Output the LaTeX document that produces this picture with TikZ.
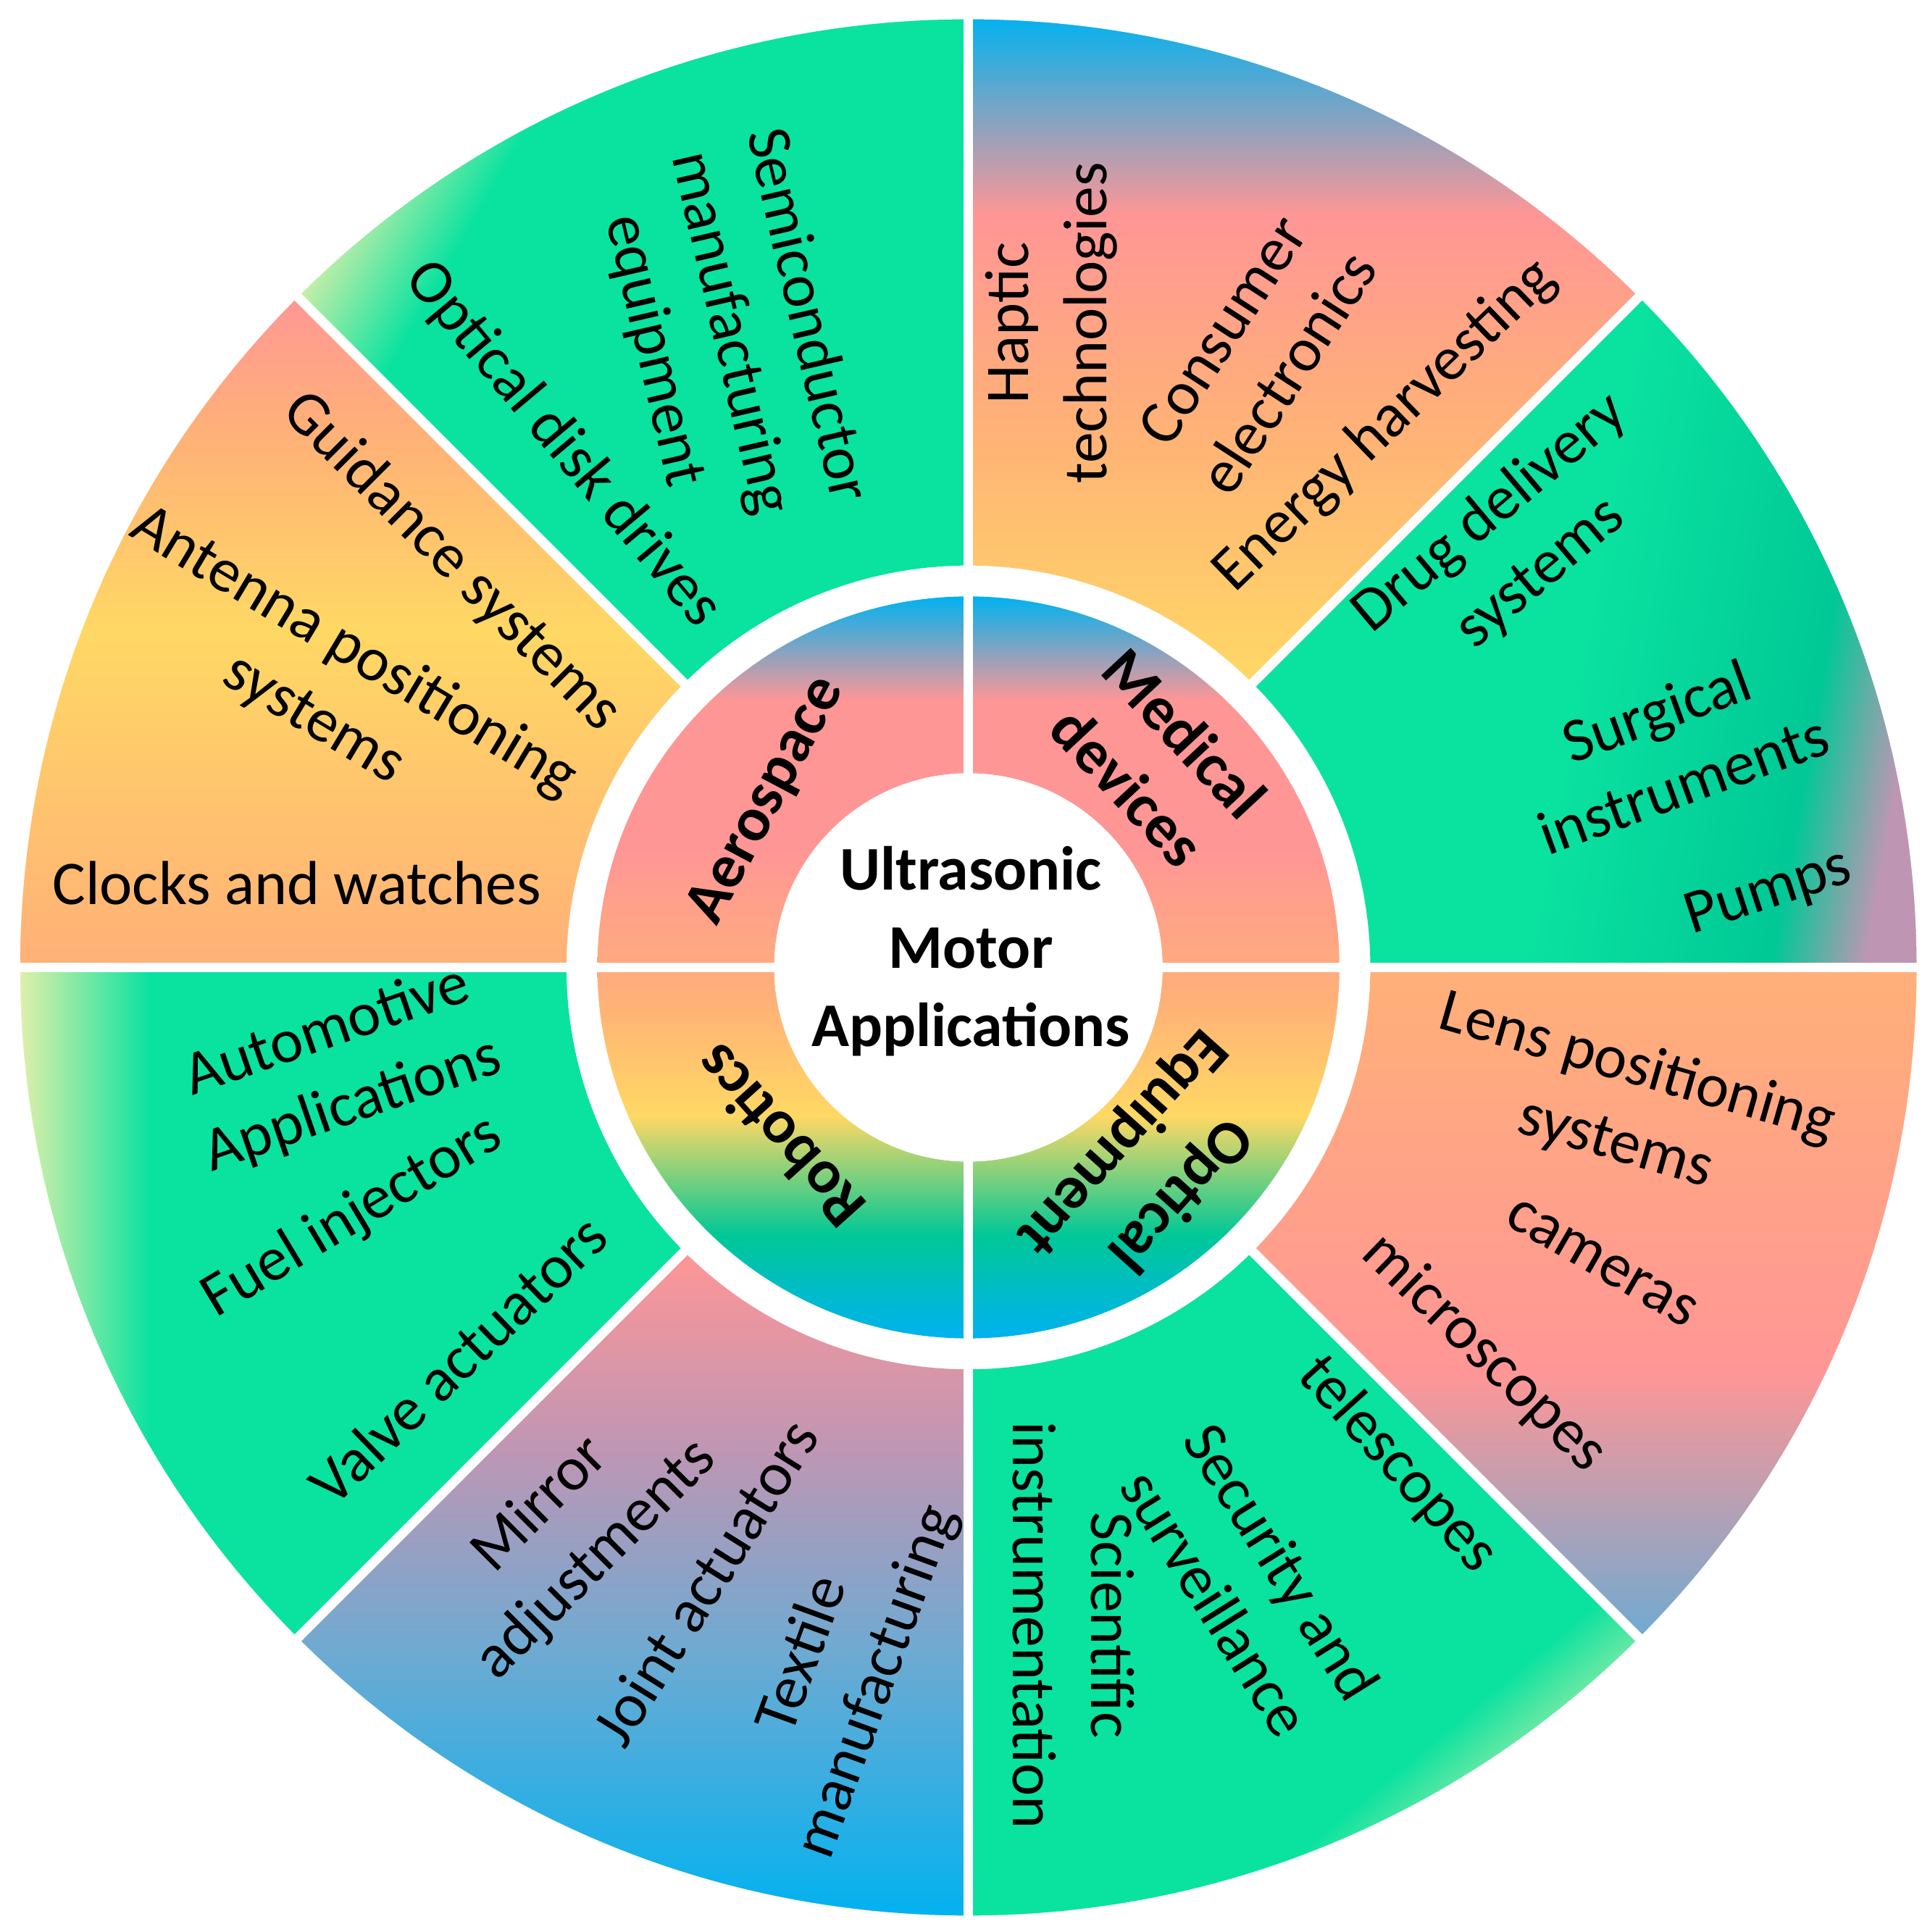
\documentclass[tikz,border=0pt]{standalone}
\usepackage{fontspec}
\setmainfont{Carlito}
\begin{document}
\definecolor{gr}{RGB}{10,226,160}
\definecolor{gr2}{RGB}{0,200,150}
\definecolor{bl}{RGB}{0,178,240}
\definecolor{pk}{RGB}{255,150,150}
\definecolor{og}{RGB}{255,176,120}
\definecolor{ye}{RGB}{255,216,100}
\definecolor{lye}{RGB}{230,240,170}
\definecolor{mv}{RGB}{190,150,180}
\definecolor{sb}{RGB}{110,170,210}
\pgfdeclareverticalshading{haptic}{100bp}{color(0bp)=(ye); color(25bp)=(ye); color(45bp)=(og); color(60bp)=(pk); color(75bp)=(bl); color(100bp)=(bl)}
\pgfdeclareverticalshading{lens}{100bp}{color(0bp)=(sb); color(25bp)=(sb); color(45bp)=(pk); color(75bp)=(og); color(100bp)=(og)}
\pgfdeclareverticalshading{guid}{100bp}{color(0bp)=(og); color(25bp)=(og); color(50bp)=(ye); color(65bp)=(og); color(75bp)=(pk); color(100bp)=(pk)}
\pgfdeclareverticalshading{mirror}{100bp}{color(0bp)=(bl); color(25bp)=(bl); color(45bp)=(sb); color(60bp)=(mv); color(75bp)=(pk); color(100bp)=(pk)}
\pgfdeclareverticalshading{green}{100bp}{color(0bp)=(gr); color(25bp)=(gr); color(50bp)=(gr); color(65bp)=(gr); color(75bp)=(lye); color(100bp)=(lye)}
\pgfdeclareverticalshading{greenpk}{100bp}{color(0bp)=(gr); color(25bp)=(gr); color(50bp)=(gr); color(68bp)=(gr2); color(75bp)=(mv); color(100bp)=(mv)}
\pgfdeclareverticalshading{ring}{100bp}{color(0bp)=(bl); color(25bp)=(bl); color(32bp)=(gr2); color(40bp)=(ye); color(48bp)=(og); color(58bp)=(pk); color(68bp)=(pk); color(75bp)=(bl); color(100bp)=(bl)}
\begin{tikzpicture}[
  lab/.style={font=\fontsize{14.3}{18}\selectfont, align=center, text=black},
  blab/.style={font=\fontsize{14.3}{18}\selectfont\bfseries, align=center, text=black},
  sep/.style={draw=white, line width=2.2pt}]
\useasboundingbox (0,0) rectangle (15.6,15.623);
\fill[white] (0,0) rectangle (15.6,15.623);
\begin{scope}[shift={(7.83,7.80)}]
\newcommand{\sect}[3]{\shade[shading=#1,shading angle=#2] (#3:3.25) arc[start angle=#3,end angle=#3+45,radius=3.25] -- (#3+45:7.7) arc[start angle=#3+45,end angle=#3,radius=7.7] -- cycle;}
\sect{greenpk}{-100}{0}
\sect{haptic}{0}{45}
\sect{green}{60}{90}
\sect{guid}{0}{135}
\sect{green}{90}{180}
\sect{mirror}{0}{225}
\sect{green}{220}{270}
\sect{lens}{0}{315}
\foreach \a in {0,45,...,315} \draw[sep] (\a:3.2) -- (\a:7.75);
\draw[white, line width=3pt] (0,0) circle (7.72);
\shade[shading=ring, even odd rule] (0,0) circle (3.0) (0,0) circle (1.57);
\foreach \a in {0,90,180,270} \draw[sep] (\a:1.5) -- (\a:3.05);
\fill[white] (0,0) circle (1.57);
\node[blab] (c) at (0.02,0.13) {Ultrasonic\\Motor\\Applications};
\node[blab, rotate=62] (aero) at (-1.63,1.35) {Aerospace};
\node[blab, rotate=-47] (med) at (1.52,1.68) {Medical\\devices};
\node[blab, rotate=132] (rob) at (-1.53,-1.37) {Robotics};
\node[blab, rotate=228] (opt) at (1.47,-1.62) {Optical\\Equipment};
\node[lab, rotate=-77] (t1) at (-1.93,5.13) {Semiconductor\\manufacturing\\equipment};
\node[lab, rotate=-50] (t2) at (-3.28,4.23) {Optical disk drives};
\node[lab, rotate=90] (t3) at (0.67,5.21) {Haptic\\technologies};
\node[lab, rotate=57] (t4) at (2.32,4.98) {Consumer\\electronics};
\node[lab, rotate=44] (t5) at (3.37,4.38) {Energy harvesting};
\node[lab, rotate=40] (t6) at (4.42,3.43) {Drug delivery\\systems};
\node[lab, rotate=20] (t7) at (5.67,1.78) {Surgical\\instruments};
\node[lab, rotate=18] (t8) at (6.47,0.60) {Pumps};
\node[lab, rotate=-16] (t9) at (5.32,-1.12) {Lens positioning\\systems};
\node[lab, rotate=-30] (t10) at (5.12,-2.39) {cameras};
\node[lab, rotate=-44] (t11) at (4.17,-3.12) {microscopes};
\node[lab, rotate=-48] (t12) at (3.47,-4.02) {telescopes};
\node[lab, rotate=-58] (t13) at (2.27,-4.97) {Security and\\surveillance};
\node[lab, rotate=-90] (t14) at (0.85,-5.32) {Scientific\\instrumentation};
\node[lab, rotate=70] (t15) at (-1.03,-5.67) {Textile\\manufacturing};
\node[lab, rotate=58] (t16) at (-2.13,-4.97) {Joint actuators};
\node[lab, rotate=45] (t17) at (-3.23,-4.57) {Mirror\\adjustments};
\node[lab, rotate=44] (t18) at (-4.13,-3.17) {Valve actuators};
\node[lab, rotate=31] (t19) at (-4.98,-2.02) {Fuel injectors};
\node[lab, rotate=19] (t20) at (-5.08,-0.82) {Automotive\\Applications};
\node[lab] (t21) at (-5.43,0.68) {Clocks and watches};
\node[lab, rotate=-31] (t22) at (-5.13,2.28) {Antenna positioning\\systems};
\node[lab, rotate=-45] (t23) at (-4.18,3.28) {Guidance systems};
\end{scope}
\end{tikzpicture}
\end{document}
